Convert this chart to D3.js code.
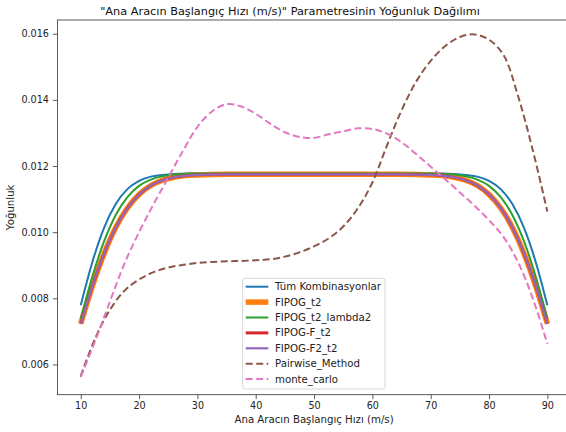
<!DOCTYPE html>
<html>
<head>
<meta charset="utf-8">
<script src="https://cdn.jsdelivr.net/npm/d3@7"></script>
<style>
body { margin: 0; background: #fff; }
svg { display: block; font-family: "DejaVu Sans", sans-serif; }
</style>
</head>
<body>
<div id="vis"></div>
<script>
var w = 566;
var h = 432;

// hiz degerleri voor de doorgetrokken lijnen (x ekseni)
var hiz = [10, 12, 14, 16, 18, 20, 22, 24, 26, 28, 30, 35, 40, 45, 50, 55, 60, 65, 70, 72, 74, 76, 78, 80, 82, 84, 86, 88, 90];

var tumKomb = [0.00779, 0.00910, 0.01013, 0.01085, 0.01130, 0.01155, 0.01168, 0.01173, 0.01176, 0.01177, 0.01177, 0.01177, 0.01177, 0.01177, 0.01177, 0.01177, 0.01177, 0.01177, 0.01177, 0.01177, 0.01176, 0.01173, 0.01168, 0.01155, 0.01130, 0.01085, 0.01013, 0.00910, 0.00779];
var fipogT2 = [0.00723, 0.00837, 0.00935, 0.01014, 0.01073, 0.01114, 0.01141, 0.01157, 0.01166, 0.01171, 0.01173, 0.01175, 0.01175, 0.01175, 0.01175, 0.01175, 0.01175, 0.01175, 0.01173, 0.01171, 0.01166, 0.01157, 0.01141, 0.01114, 0.01073, 0.01014, 0.00935, 0.00837, 0.00723];
var fipogLambda2 = [0.00738, 0.00866, 0.00972, 0.01052, 0.01106, 0.01140, 0.01159, 0.01169, 0.01174, 0.01176, 0.01177, 0.01177, 0.01177, 0.01177, 0.01177, 0.01177, 0.01177, 0.01177, 0.01177, 0.01176, 0.01174, 0.01169, 0.01159, 0.01140, 0.01106, 0.01052, 0.00972, 0.00866, 0.00738];
var fipogF = [0.00723, 0.00837, 0.00935, 0.01014, 0.01073, 0.01114, 0.01141, 0.01157, 0.01166, 0.01171, 0.01173, 0.01175, 0.01175, 0.01175, 0.01175, 0.01175, 0.01175, 0.01175, 0.01173, 0.01171, 0.01166, 0.01157, 0.01141, 0.01114, 0.01073, 0.01014, 0.00935, 0.00837, 0.00723];
var fipogF2 = [0.00723, 0.00837, 0.00935, 0.01014, 0.01073, 0.01114, 0.01141, 0.01157, 0.01166, 0.01171, 0.01173, 0.01175, 0.01175, 0.01175, 0.01175, 0.01175, 0.01175, 0.01175, 0.01173, 0.01171, 0.01166, 0.01157, 0.01141, 0.01114, 0.01073, 0.01014, 0.00935, 0.00837, 0.00723];

// hiz degerleri voor de gestippelde lijnen
var hizD = [10, 12.5, 15, 17.5, 20, 22.5, 25, 27.5, 30, 32.5, 35, 37.5, 40, 42.5, 45, 47.5, 50, 52.5, 55, 57.5, 60, 62.5, 65, 67.5, 70, 72.5, 75, 77.5, 80, 82.5, 85, 87.5, 90];

var pairwise = [0.00565, 0.00680, 0.00765, 0.00823, 0.00857, 0.00879, 0.00893, 0.00901, 0.00907, 0.00910, 0.00912, 0.00913, 0.00915, 0.00918, 0.00926, 0.00939, 0.00957, 0.00981, 0.01017, 0.01072, 0.01150, 0.01262, 0.01368, 0.01455, 0.01518, 0.01563, 0.01590, 0.01598, 0.01582, 0.01535, 0.01410, 0.01248, 0.01062];
var monteCarlo = [0.00562, 0.00672, 0.00790, 0.00905, 0.01000, 0.01085, 0.01165, 0.01245, 0.01318, 0.01365, 0.01387, 0.01380, 0.01358, 0.01328, 0.01302, 0.01288, 0.01285, 0.01296, 0.01305, 0.01314, 0.01312, 0.01298, 0.01272, 0.01236, 0.01198, 0.01160, 0.01120, 0.01080, 0.01036, 0.00985, 0.00908, 0.00800, 0.00662];

var xTicks = [10, 20, 30, 40, 50, 60, 70, 80, 90];
var yTicks = [0.006, 0.008, 0.010, 0.012, 0.014, 0.016];

var series = [
	{name: "Tüm Kombinasyonlar", xs: hiz, vals: tumKomb, color: "#1f77b4", lw: 2, dash: null},
	{name: "FIPOG_t2", xs: hiz, vals: fipogT2, color: "#ff7f0e", lw: 5.5, dash: null},
	{name: "FIPOG_t2_lambda2", xs: hiz, vals: fipogLambda2, color: "#2ca02c", lw: 2, dash: null},
	{name: "FIPOG-F_t2", xs: hiz, vals: fipogF, color: "#d62728", lw: 2.6, dash: null},
	{name: "FIPOG-F2_t2", xs: hiz, vals: fipogF2, color: "#9467bd", lw: 2.2, dash: null},
	{name: "Pairwise_Method", xs: hizD, vals: pairwise, color: "#8c564b", lw: 2, dash: "7,3.5"},
	{name: "monte_carlo", xs: hizD, vals: monteCarlo, color: "#e377c2", lw: 2, dash: "7,3.5"}
];

var pl = 57.4, pr = 570.7, pt = 20, pb = 394.7;

var svg = d3.select("#vis")
	.append("svg")
	.attr("width", w)
	.attr("height", h);

var x = d3.scaleLinear().domain([6, 94]).range([pl, pr]);
var y = d3.scaleLinear().domain([0.005085, 0.016415]).range([pb, pt]);

//assen
var xAxis = svg.append("g")
	.attr("transform", "translate(0," + pb + ")")
	.call(d3.axisBottom(x).tickValues(xTicks).tickSize(4.5).tickPadding(3).tickFormat(d3.format("d")));
var yAxis = svg.append("g")
	.attr("transform", "translate(" + pl + ",0)")
	.call(d3.axisLeft(y).tickValues(yTicks).tickSize(4.5).tickPadding(4).tickFormat(d3.format(".3f")));

[xAxis, yAxis].forEach(function(a) {
	a.select(".domain").remove();
	a.selectAll("line").attr("stroke", "#333").attr("stroke-width", 0.8);
	a.selectAll("text").attr("fill", "#222").style("font-size", "9.6px").style("font-family", "DejaVu Sans");
});

//lijnen: monotone voor de vlakke curves, catmull-rom voor de gestippelde
var lineSolid = d3.line()
	.x(function(d) { return x(d[0]); })
	.y(function(d) { return y(d[1]); })
	.curve(d3.curveMonotoneX);
var lineDash = d3.line()
	.x(function(d) { return x(d[0]); })
	.y(function(d) { return y(d[1]); })
	.curve(d3.curveCatmullRom.alpha(0.5));

var plot = svg.append("g");
series.forEach(function(s) {
	plot.append("path")
		.datum(s.xs.map(function(v, i) { return [v, s.vals[i]]; }))
		.attr("d", s.dash ? lineDash : lineSolid)
		.attr("fill", "none")
		.attr("stroke", s.color)
		.attr("stroke-width", s.lw)
		.attr("stroke-dasharray", s.dash);
});

//kader
svg.append("rect")
	.attr("x", pl)
	.attr("y", pt)
	.attr("width", pr - pl)
	.attr("height", pb - pt)
	.attr("fill", "none")
	.attr("stroke", "#333")
	.attr("stroke-width", 0.8);

//titels
svg.append("text")
	.text("\"Ana Aracın Başlangıç Hızı (m/s)\" Parametresinin Yoğunluk Dağılımı")
	.attr("x", 290)
	.attr("y", 14.5)
	.attr("text-anchor", "middle")
	.attr("fill", "#111")
	.style("font-size", "11.3px");

svg.append("text")
	.text("Ana Aracın Başlangıç Hızı (m/s)")
	.attr("x", (pl + pr) / 2)
	.attr("y", 423)
	.attr("text-anchor", "middle")
	.attr("fill", "#222")
	.style("font-size", "10.2px");

svg.append("text")
	.text("Yoğunluk")
	.attr("transform", "translate(13.5," + ((pt + pb) / 2) + ") rotate(-90)")
	.attr("text-anchor", "middle")
	.attr("fill", "#222")
	.style("font-size", "10.2px");

//legenda
var lg = svg.append("g").attr("transform", "translate(242.7,278.3)");
lg.append("rect")
	.attr("width", 142.3)
	.attr("height", 110.7)
	.attr("rx", 2.5)
	.attr("fill", "#fff")
	.attr("fill-opacity", 0.8)
	.attr("stroke", "#ccc")
	.attr("stroke-width", 0.8);

series.forEach(function(s, i) {
	var ly = 8.4 + i * 15.4;
	lg.append("line")
		.attr("x1", 3)
		.attr("x2", 25.6)
		.attr("y1", ly)
		.attr("y2", ly)
		.attr("stroke", s.color)
		.attr("stroke-width", s.name == "FIPOG-F_t2" ? 3 : s.lw)
		.attr("stroke-dasharray", s.dash);
	lg.append("text")
		.text(s.name)
		.attr("x", 32.3)
		.attr("y", ly + 3.6)
		.attr("fill", "#222")
		.style("font-size", "10.2px");
});
</script>
</body>
</html>
